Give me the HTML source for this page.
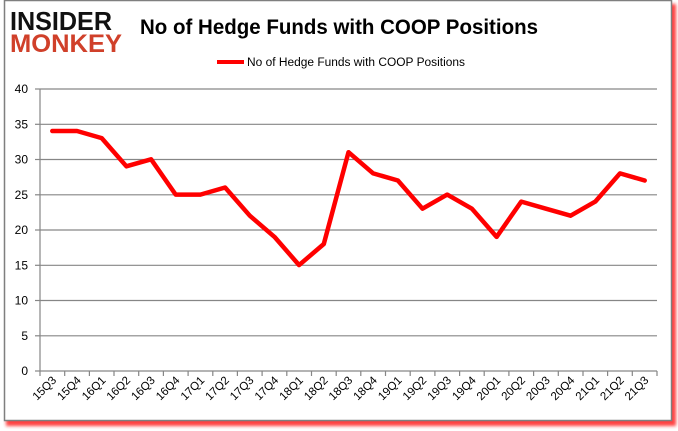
<!DOCTYPE html>
<html><head><meta charset="utf-8"><style>
html,body{margin:0;padding:0;background:#fff;}
svg{display:block;font-family:"Liberation Sans",sans-serif;}
</style></head><body>
<svg width="678" height="431" viewBox="0 0 678 431" xmlns="http://www.w3.org/2000/svg">
<defs>
<filter id="sh" x="-5%" y="-5%" width="110%" height="115%"><feGaussianBlur stdDeviation="1.5"/></filter>
</defs>
<rect x="0" y="0" width="678" height="431" fill="#fff"/>
<rect x="6" y="4" width="670" height="422" fill="#ff2020" opacity="0.85" filter="url(#sh)"/>
<rect x="1" y="0" width="670" height="421" fill="#fff"/>
<rect x="4.5" y="0.5" width="667" height="420" fill="#fff" stroke="#7f7f7f" stroke-width="1.5"/>
<text x="10" y="30" font-size="26" font-weight="bold" fill="#111" textLength="102" lengthAdjust="spacingAndGlyphs">INSIDER</text>
<text x="10" y="52" font-size="25" font-weight="bold" fill="#d0402a" textLength="112" lengthAdjust="spacingAndGlyphs">MONKEY</text>
<text x="140" y="34" font-size="21" font-weight="bold" fill="#000" textLength="398" lengthAdjust="spacingAndGlyphs">No of Hedge Funds with COOP Positions</text>
<line x1="217" y1="62" x2="244" y2="62" stroke="#ff0000" stroke-width="4"/>
<text x="247" y="66" font-size="11.5" fill="#000" textLength="218" lengthAdjust="spacingAndGlyphs">No of Hedge Funds with COOP Positions</text>
<g stroke="#868686" stroke-width="1.2">
<line x1="40" y1="89" x2="657" y2="89"/>
<line x1="40" y1="124.3" x2="657" y2="124.3"/>
<line x1="40" y1="159.5" x2="657" y2="159.5"/>
<line x1="40" y1="194.8" x2="657" y2="194.8"/>
<line x1="40" y1="230" x2="657" y2="230"/>
<line x1="40" y1="265.3" x2="657" y2="265.3"/>
<line x1="40" y1="300.5" x2="657" y2="300.5"/>
<line x1="40" y1="335.8" x2="657" y2="335.8"/>
<line x1="40" y1="371" x2="657" y2="371"/>
<line x1="40" y1="89" x2="40" y2="371"/>
<line x1="35" y1="89" x2="40" y2="89"/>
<line x1="35" y1="124.3" x2="40" y2="124.3"/>
<line x1="35" y1="159.5" x2="40" y2="159.5"/>
<line x1="35" y1="194.8" x2="40" y2="194.8"/>
<line x1="35" y1="230" x2="40" y2="230"/>
<line x1="35" y1="265.3" x2="40" y2="265.3"/>
<line x1="35" y1="300.5" x2="40" y2="300.5"/>
<line x1="35" y1="335.8" x2="40" y2="335.8"/>
<line x1="35" y1="371" x2="40" y2="371"/>
</g>
<g font-size="12" fill="#000" text-anchor="end">
<text x="28" y="93">40</text>
<text x="28" y="128.3">35</text>
<text x="28" y="163.5">30</text>
<text x="28" y="198.8">25</text>
<text x="28" y="234">20</text>
<text x="28" y="269.3">15</text>
<text x="28" y="304.5">10</text>
<text x="28" y="339.8">5</text>
<text x="28" y="375">0</text>
</g>
<g stroke="#868686" stroke-width="1.2">
<line x1="40" y1="371" x2="40" y2="376"/><line x1="64.7" y1="371" x2="64.7" y2="376"/><line x1="89.4" y1="371" x2="89.4" y2="376"/><line x1="114" y1="371" x2="114" y2="376"/><line x1="138.7" y1="371" x2="138.7" y2="376"/><line x1="163.4" y1="371" x2="163.4" y2="376"/><line x1="188.1" y1="371" x2="188.1" y2="376"/><line x1="212.8" y1="371" x2="212.8" y2="376"/><line x1="237.4" y1="371" x2="237.4" y2="376"/><line x1="262.1" y1="371" x2="262.1" y2="376"/><line x1="286.8" y1="371" x2="286.8" y2="376"/><line x1="311.5" y1="371" x2="311.5" y2="376"/><line x1="336.2" y1="371" x2="336.2" y2="376"/><line x1="360.8" y1="371" x2="360.8" y2="376"/><line x1="385.5" y1="371" x2="385.5" y2="376"/><line x1="410.2" y1="371" x2="410.2" y2="376"/><line x1="434.9" y1="371" x2="434.9" y2="376"/><line x1="459.6" y1="371" x2="459.6" y2="376"/><line x1="484.2" y1="371" x2="484.2" y2="376"/><line x1="508.9" y1="371" x2="508.9" y2="376"/><line x1="533.6" y1="371" x2="533.6" y2="376"/><line x1="558.3" y1="371" x2="558.3" y2="376"/><line x1="583" y1="371" x2="583" y2="376"/><line x1="607.6" y1="371" x2="607.6" y2="376"/><line x1="632.3" y1="371" x2="632.3" y2="376"/><line x1="657" y1="371" x2="657" y2="376"/>
</g>
<g font-size="11.5" fill="#000" text-anchor="end">
<text transform="translate(57,381) rotate(-45)">15Q3</text>
<text transform="translate(81.7,381) rotate(-45)">15Q4</text>
<text transform="translate(106.4,381) rotate(-45)">16Q1</text>
<text transform="translate(131,381) rotate(-45)">16Q2</text>
<text transform="translate(155.7,381) rotate(-45)">16Q3</text>
<text transform="translate(180.4,381) rotate(-45)">16Q4</text>
<text transform="translate(205.1,381) rotate(-45)">17Q1</text>
<text transform="translate(229.8,381) rotate(-45)">17Q2</text>
<text transform="translate(254.4,381) rotate(-45)">17Q3</text>
<text transform="translate(279.1,381) rotate(-45)">17Q4</text>
<text transform="translate(303.8,381) rotate(-45)">18Q1</text>
<text transform="translate(328.5,381) rotate(-45)">18Q2</text>
<text transform="translate(353.2,381) rotate(-45)">18Q3</text>
<text transform="translate(377.8,381) rotate(-45)">18Q4</text>
<text transform="translate(402.5,381) rotate(-45)">19Q1</text>
<text transform="translate(427.2,381) rotate(-45)">19Q2</text>
<text transform="translate(451.9,381) rotate(-45)">19Q3</text>
<text transform="translate(476.6,381) rotate(-45)">19Q4</text>
<text transform="translate(501.2,381) rotate(-45)">20Q1</text>
<text transform="translate(525.9,381) rotate(-45)">20Q2</text>
<text transform="translate(550.6,381) rotate(-45)">20Q3</text>
<text transform="translate(575.3,381) rotate(-45)">20Q4</text>
<text transform="translate(600,381) rotate(-45)">21Q1</text>
<text transform="translate(624.6,381) rotate(-45)">21Q2</text>
<text transform="translate(649.3,381) rotate(-45)">21Q3</text>
</g>
<polyline fill="none" stroke="#ff0000" stroke-width="4.5" stroke-linejoin="round" stroke-linecap="round"
points="52.3,131 77,131 101.7,138.1 126.4,166.3 151.1,159.3 175.7,194.6 200.4,194.6 225.1,187.5 249.8,215.7 274.5,236.9 299.1,265.1 323.8,244 348.5,152.2 373.2,173.4 397.9,180.5 422.5,208.7 447.2,194.6 471.9,208.7 496.6,236.9 521.3,201.6 545.9,208.7 570.6,215.7 595.3,201.6 620,173.4 644.7,180.5"/>
</svg>
</body></html>
